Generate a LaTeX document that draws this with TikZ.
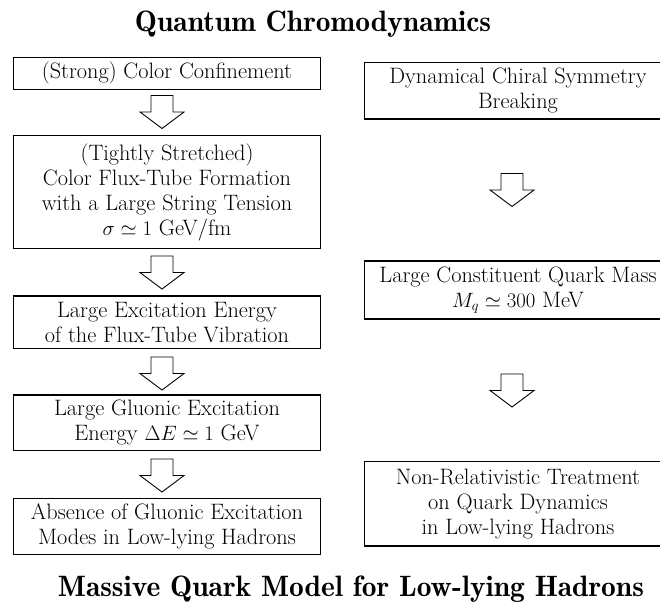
\documentclass[tikz,border=0pt]{standalone}
\begin{document}
\begin{tikzpicture}[x=1pt,y=-1pt,
  box/.style={draw,line width=1.1pt,inner sep=0pt,minimum width=307.4pt,align=center,font=\fontsize{22.3}{25}\selectfont},
  ttl/.style={anchor=base,inner sep=0pt,font=\fontsize{29.5}{32}\fontseries{b}\selectfont},
  blockarrow/.pic={\draw[line width=0.9pt,line join=miter] (-11,0) -- (11,0) -- (11,16.5) -- (22,16.5) -- (0,33) -- (-22,16.5) -- (-11,16.5) -- cycle;}]
\clip (0,0) rectangle (660,604);
% titles
\node[ttl] (top) at (313,31.6) {Quantum Chromodynamics};
\node[ttl] (bottom) at (351,596) {Massive Quark Model for Low-lying Hadrons};
% left column
\node[box,minimum height=32pt] (l1) at (167,73.3) {(Strong) Color Confinement};
\node[box,minimum height=113pt] (l2) at (167,192) {(Tightly Stretched)\\Color Flux-Tube Formation\\with a Large String Tension\\$\sigma\simeq 1$~GeV/fm};
\node[box,minimum height=52.3pt] (l3) at (167,322.15) {Large Excitation Energy\\of the Flux-Tube Vibration};
\node[box,minimum height=55.7pt] (l4) at (167,422.85) {Large Gluonic Excitation\\Energy $\Delta E\simeq 1$~GeV};
\node[box,minimum height=56pt] (l5) at (167,526.3) {Absence of Gluonic Excitation\\Modes in Low-lying Hadrons};
% right column
\node[box,minimum height=56.7pt] (r1) at (518,90.65) {Dynamical Chiral Symmetry\\Breaking};
\node[box,minimum height=58pt] (r2) at (518,290) {Large Constituent Quark Mass\\$M_q\simeq 300$~MeV};
\node[box,minimum height=84.7pt] (r3) at (518,503.65) {Non-Relativistic Treatment\\on Quark Dynamics\\in Low-lying Hadrons};
% block arrows
\pic (a1) at (162,95.5) {blockarrow};
\pic (a2) at (162,256) {blockarrow};
\pic (a3) at (162,357) {blockarrow};
\pic (a4) at (162,459) {blockarrow};
\pic (b1) at (512,173.5) {blockarrow};
\pic (b2) at (512,374) {blockarrow};
\end{tikzpicture}
\end{document}
